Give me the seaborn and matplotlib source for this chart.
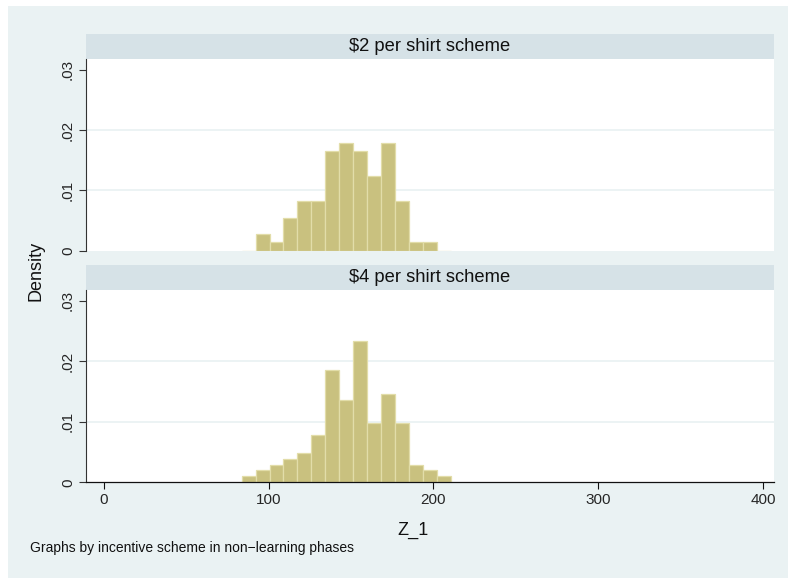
import numpy as np
import pandas as pd
import matplotlib
matplotlib.use("Agg")
import matplotlib.pyplot as plt
from matplotlib.patches import Rectangle
import seaborn as sns

# Histogram bins shared by both panels (Z_1 units)
bin_edges = list(np.linspace(83.7, 210.6, 16))

# Observation counts per bin for each incentive scheme
counts_2 = [0, 2, 1, 4, 6, 6, 12, 13, 12, 9, 13, 6, 1, 1, 0]
counts_4 = [1, 2, 3, 4, 5, 8, 19, 14, 24, 10, 15, 10, 3, 2, 1]

panel_titles = ["$2 per shirt scheme", "$4 per shirt scheme"]
x_ticks = [0, 100, 200, 300, 400]
y_ticks = [0, 0.01, 0.02, 0.03]
y_tick_labels = ["0", ".01", ".02", ".03"]

sns.set_theme(style="white")
plt.rcParams["font.family"] = ["Liberation Sans", "DejaVu Sans"]

W, H = 788, 579
BG = "#EAF2F3"
STRIP = "#D6E2E7"
BAR = "#C9C17F"
BAR_EDGE = "#E2DDA9"

fig = plt.figure(figsize=(W / 100, H / 100), dpi=100, facecolor="white")


def fx(px):
    return px / W


def fy(py):
    return 1 - py / H


# graph region background
fig.patches.append(Rectangle((fx(8), fy(578)), fx(780), 572 / H,
                             transform=fig.transFigure, facecolor=BG,
                             edgecolor="none", zorder=-10))

left, right = 86, 773.7
panels = [
    dict(strip=(33.7, 59), plot=(59, 250.7)),
    dict(strip=(265, 290), plot=(290, 482.3)),
]

edges = np.array(bin_edges)
centers = (edges[:-1] + edges[1:]) / 2
axes = []
for i, (p, counts, title) in enumerate(zip(panels, [counts_2, counts_4], panel_titles)):
    top, bot = p["plot"]
    ax = fig.add_axes([fx(left), fy(bot), fx(right - left), (bot - top) / H])
    ax.set_zorder(5)
    ax.set_facecolor("white")
    df = pd.DataFrame({"z": centers, "n": counts})
    df = df[df["n"] > 0]
    sns.histplot(data=df, x="z", weights="n", bins=bin_edges, stat="density",
                 color=BAR, edgecolor=BAR_EDGE, linewidth=0.9, alpha=1,
                 ax=ax, zorder=2)
    ax.set_xlim(-10.74, 406.5)
    ax.set_ylim(0, 0.0318)
    for gy in y_ticks[1:-1]:
        ax.axhline(gy, color=BG, lw=1.3, zorder=1)
    ax.set_yticks(y_ticks)
    ax.set_yticklabels(y_tick_labels)
    ax.tick_params(axis="y", left=True, length=5, width=0.8, color="#333333",
                   labelsize=11, pad=3, labelrotation=90)
    for lab in ax.get_yticklabels():
        lab.set_va("center")
    for s in ["top", "right"]:
        ax.spines[s].set_visible(False)
    ax.spines["left"].set_color("#333333")
    ax.spines["left"].set_linewidth(0.8)
    ax.set_xlabel("")
    ax.set_ylabel("")
    if i == 0:
        ax.spines["bottom"].set_visible(False)
        ax.set_xticks([])
    else:
        ax.spines["bottom"].set_color("#111111")
        ax.spines["bottom"].set_linewidth(0.9)
        ax.set_xticks(x_ticks)
        ax.tick_params(axis="x", bottom=True, length=5, width=0.8,
                       color="#111111", labelsize=11, pad=3)
    # panel strip with title
    s_top, s_bot = p["strip"]
    fig.patches.append(Rectangle((fx(left), fy(s_bot)), fx(right - left),
                                 (s_bot - s_top) / H, transform=fig.transFigure,
                                 facecolor=STRIP, edgecolor="none", zorder=-5))
    fig.text(fx((left + right) / 2), fy((s_top + s_bot) / 2),
             title.replace("$", r"\$"), ha="center", va="center",
             fontsize=13.2, color="#111111")
    axes.append(ax)

fig.text(fx(36), fy(270.6), "Density", rotation=90, ha="center", va="center",
         fontsize=13, color="#111111")
fig.text(fx(412.5), fy(535), "Z_1", ha="center", va="baseline",
         fontsize=13, color="#111111")
fig.text(fx(30), fy(548), "Graphs by incentive scheme in non\u2212learning phases",
         ha="left", va="center", fontsize=10, color="#111111")

fig.savefig("out.png", dpi=100, facecolor="white")
